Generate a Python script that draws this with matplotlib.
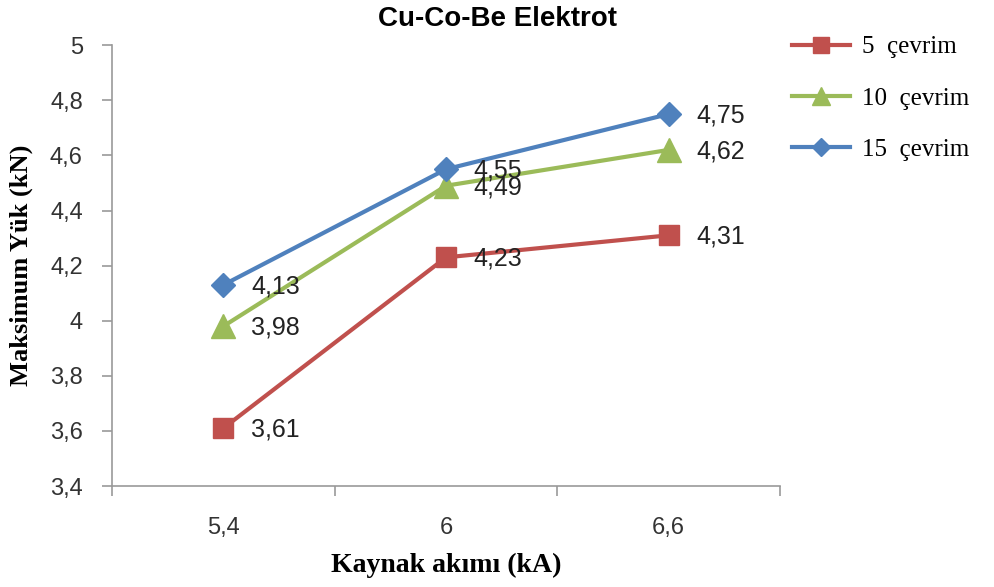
import numpy as np
import matplotlib
matplotlib.use('Agg')
from matplotlib import pyplot as plt

# data
currents = ['5,4', '6', '6,6']
labels = ['5  çevrim', '10  çevrim', '15  çevrim']
load_5 = [3.61, 4.23, 4.31]
load_10 = [3.98, 4.49, 4.62]
load_15 = [4.13, 4.55, 4.75]
yticks = [3.4, 3.6, 3.8, 4.0, 4.2, 4.4, 4.6, 4.8, 5.0]

colors = ['#C0504D', '#9BBB59', '#4F81BD']
markers = ['s', '^', 'D']
msizes = [15, 17, 12]
series = [load_5, load_10, load_15]

fig = plt.figure(figsize=(9.95, 5.87), dpi=100)
ax = fig.add_axes([0.1126, 0.172, 0.6714, 0.751])

x = np.arange(len(currents))
for vals, c, m, ms, lab in zip(series, colors, markers, msizes, labels):
    ax.plot(x, vals, color=c, lw=3, marker=m, markersize=ms, label=lab)
    for xi, v in zip(x, vals):
        ax.annotate(('%.2f' % v).replace('.', ','), (xi, v), xytext=(20, -1),
                    textcoords='offset points', va='center', ha='left',
                    fontsize=18, family='Liberation Sans', color='#222222')

ax.set_xlim(-0.5, 2.5)
ax.set_ylim(3.4, 5.0)
ax.set_xticks(x)
ax.set_xticklabels(currents, fontsize=17, family='Liberation Sans', color='#333333')
ax.set_xticks([-0.5, 0.5, 1.5, 2.5], minor=True)
ax.tick_params(axis='x', which='major', length=0, pad=22)
ax.tick_params(axis='x', which='minor', length=7, color='#999999', width=1.2)
ax.set_yticks(yticks)
ax.set_yticklabels([('%.1f' % t).replace('.', ',').replace(',0', '') for t in yticks],
                   fontsize=17, family='Liberation Sans', color='#333333')
ax.tick_params(axis='y', length=7, color='#999999', width=1.2, pad=14)

for s in ['top', 'right']:
    ax.spines[s].set_visible(False)
for s in ['left', 'bottom']:
    ax.spines[s].set_color('#999999')
    ax.spines[s].set_linewidth(1.2)

ax.set_xlabel('Kaynak akımı (kA)', fontsize=20, family='Liberation Serif',
              fontweight='bold')
ax.set_ylabel('Maksimum Yük (kN)', fontsize=19, family='Liberation Serif',
              fontweight='bold')
ax.xaxis.set_label_coords(0.5, -0.152)
ax.yaxis.set_label_coords(-0.118, 0.5)
fig.text(0.5, 0.968, 'Cu-Co-Be Elektrot', ha='center', va='center', fontsize=20,
         family='Liberation Sans', fontweight='bold')

ax.legend(loc='upper left', bbox_to_anchor=(1.018, 1.021), frameon=False,
          prop={'family': 'Liberation Serif', 'size': 18}, handlelength=2.3,
          handletextpad=0.5, labelspacing=1.15, borderpad=0, borderaxespad=0,
          markerscale=0.8)

fig.savefig('out.png', dpi=100)
